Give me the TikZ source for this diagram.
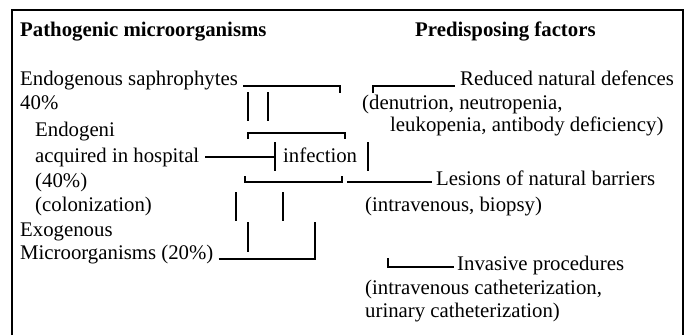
\documentclass[tikz,border=0pt]{standalone}
\usepackage{fontspec}
\setmainfont{Liberation Serif}
\usetikzlibrary{calc}

\begin{document}
\begin{tikzpicture}[x=1pt, y=-1pt,
	lbl/.style={anchor=west, inner sep=0pt, text height=14.5pt, text depth=4pt,
		font=\fontsize{20.8}{24}\selectfont},
	head/.style={lbl, font=\fontsize{20.8}{24}\selectfont\bfseries},
	wire/.style={line width=1.1pt},
	frame/.style={line width=1.4pt}]
	\useasboundingbox (0,0) rectangle (691,335);
	\draw[frame] (12,335) -- (12,10) -- (683,10) -- (683,335);

	% headings
	\node[head] (hpath) at (20,31) {Pathogenic microorganisms};
	\node[head] (hpred) at (415,31) {Predisposing factors};

	% left column
	\node[lbl] (endo) at (20,80) {Endogenous saphrophytes};
	\node[lbl] (pct1) at (20,104) {40\%};
	\node[lbl] (endg) at (35,131) {Endogeni};
	\node[lbl] (acq) at (35,157) {acquired in hospital};
	\node[lbl] (pct2) at (35,182) {(40\%)};
	\node[lbl] (colo) at (35,206) {(colonization)};
	\node[lbl] (exo) at (20,231) {Exogenous};
	\node[lbl] (micro) at (20,254) {Microorganisms (20\%)};

	% centre
	\node[lbl] (inf) at (283,157) {infection};

	% right column
	\node[lbl] (red) at (460,80) {Reduced natural defences};
	\node[lbl] (denu) at (362,104) {(denutrion, neutropenia,};
	\node[lbl] (leuk) at (390,126) {leukopenia, antibody deficiency)};
	\node[lbl] (les) at (436,180) {Lesions of natural barriers};
	\node[lbl] (biop) at (365,206) {(intravenous, biopsy)};
	\node[lbl] (inv) at (457,265) {Invasive procedures};
	\node[lbl] (cath) at (365,289) {(intravenous catheterization,};
	\node[lbl] (urin) at (365,312) {urinary catheterization)};

	% top brackets
	\coordinate (eK) at (340,86);
	\coordinate (eT) at (340,93);
	\draw[wire] ([xshift=5pt]eK -| endo.east) -- (eK) -- (eT);
	\coordinate (rT) at (373,93);
	\coordinate (rK) at (373,86);
	\draw[wire] (rT) -- (rK) -- ([xshift=-5pt]rK -| red.west);
	\coordinate (v1a) at (248,92);
	\coordinate (v1b) at (248,121);
	\coordinate (v2a) at (268,92);
	\coordinate (v2b) at (268,121);
	\draw[wire] (v1a) -- (v1b) (v2a) -- (v2b);
	\coordinate (ua) at (248,139);
	\coordinate (ub) at (248,133);
	\coordinate (uc) at (345,133);
	\coordinate (ud) at (345,139);
	\draw[wire] (ua) -- (ub) -- (uc) -- (ud);

	% infection box
	\coordinate (pL) at (275,142);
	\coordinate (pLb) at (275,171);
	\coordinate (pR) at (368,142);
	\coordinate (pRb) at (368,171);
	\draw[wire] ([xshift=6pt]acq.east) -- (acq.east -| pL);
	\draw[wire] (pL) -- (pLb) (pR) -- (pRb);

	% lower brackets
	\coordinate (la) at (245,176);
	\coordinate (lb) at (245,182);
	\coordinate (lc) at (342,182);
	\coordinate (ld) at (342,176);
	\draw[wire] (la) -- (lb) -- (lc) -- (ld);
	\coordinate (lesK) at (347,182);
	\draw[wire] (lesK) -- ([xshift=-4pt]lesK -| les.west);
	\coordinate (w1a) at (236,192);
	\coordinate (w1b) at (236,221);
	\coordinate (w2a) at (283,192);
	\coordinate (w2b) at (283,221);
	\coordinate (w3a) at (248,222);
	\coordinate (w3b) at (248,252);
	\draw[wire] (w1a) -- (w1b) (w2a) -- (w2b) (w3a) -- (w3b);
	\coordinate (mK) at (315,259);
	\coordinate (mT) at (315,222);
	\draw[wire] ([xshift=5pt]mK -| micro.east) -- (mK) -- (mT);
	\coordinate (iT) at (388,258);
	\coordinate (iK) at (388,267);
	\draw[wire] (iT) -- (iK) -- ([xshift=-3pt]iK -| inv.west);
\end{tikzpicture}
\end{document}
